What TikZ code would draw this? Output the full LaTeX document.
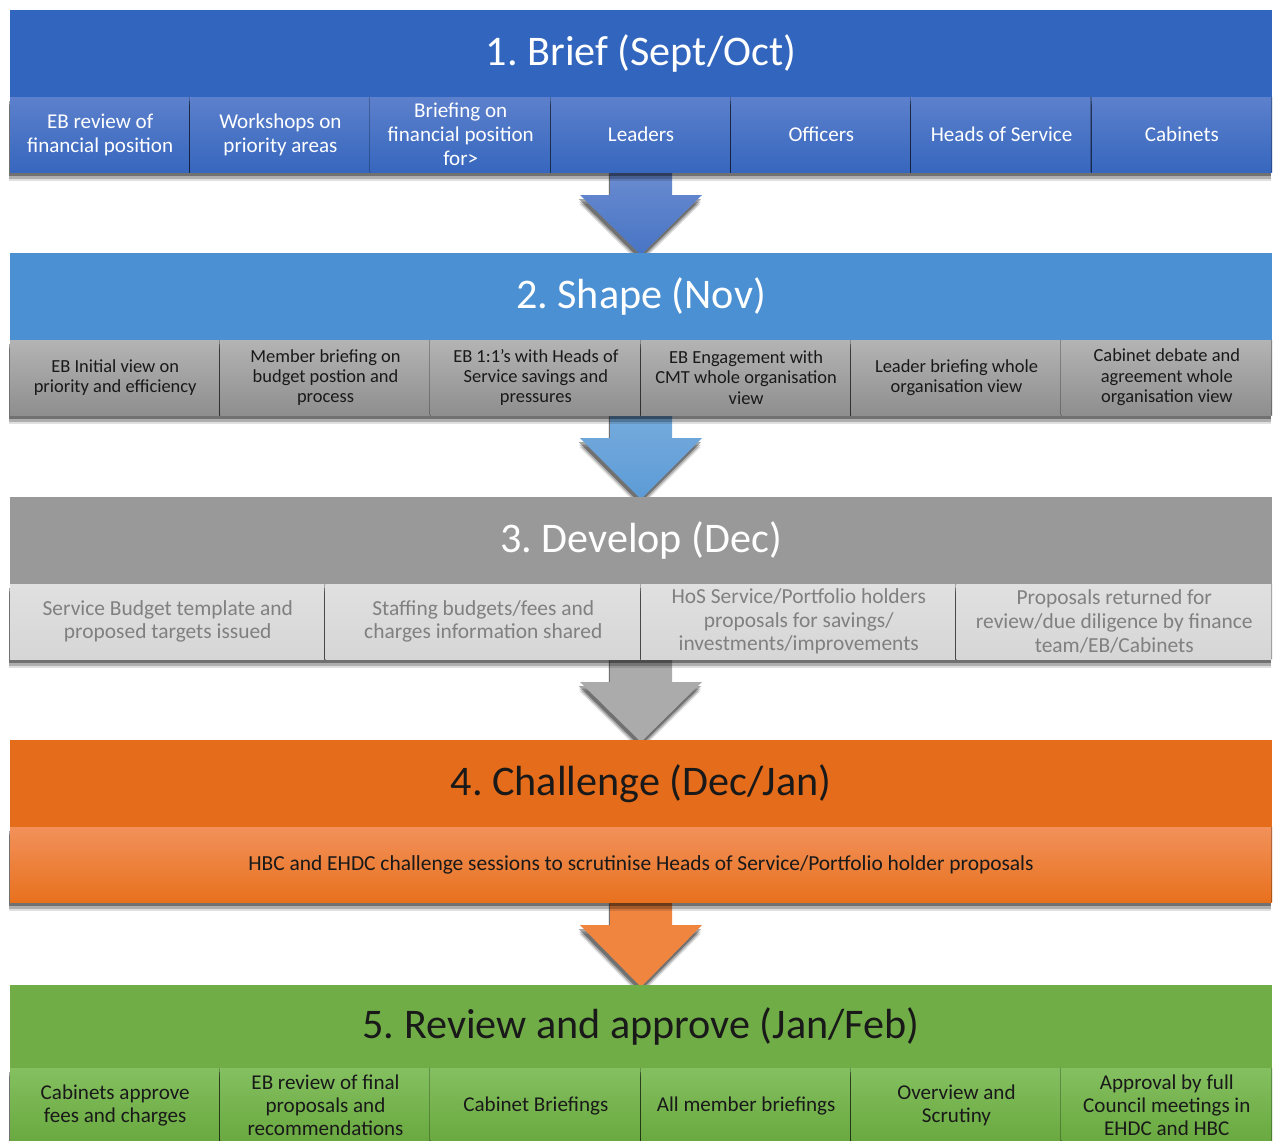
\documentclass[tikz,border=0pt]{standalone}
\usepackage{fontspec}
\setmainfont{Carlito}
\usetikzlibrary{positioning,calc,shadows,backgrounds}

\newdimen\px \px=0.02cm
\frenchspacing

\definecolor{briefhead}{HTML}{3265BE}
\definecolor{brieftop}{HTML}{5C80CC}
\definecolor{briefbot}{HTML}{3767BE}
\definecolor{shapehead}{HTML}{4A90D2}
\definecolor{shapetop}{HTML}{B4B4B4}
\definecolor{shapebot}{HTML}{8E8E8E}
\definecolor{develhead}{HTML}{999999}
\definecolor{develtop}{HTML}{E0E0E0}
\definecolor{develbot}{HTML}{D6D6D6}
\definecolor{develtext}{HTML}{808080}
\definecolor{challhead}{HTML}{E46C1A}
\definecolor{challtop}{HTML}{F2915A}
\definecolor{challbot}{HTML}{E8711E}
\definecolor{challarrow}{HTML}{F0853F}
\definecolor{reviewhead}{HTML}{70AD47}
\definecolor{reviewtop}{HTML}{84C060}
\definecolor{reviewbot}{HTML}{69A83F}

\tikzset{
  softshadow/.style={
    drop shadow={shadow xshift=-0.6pt, shadow yshift=-5pt, opacity=0.12, fill=black},
    drop shadow={shadow xshift=-0.6pt, shadow yshift=-3.8pt, opacity=0.22, fill=black},
    drop shadow={shadow xshift=-0.6pt, shadow yshift=-2.4pt, opacity=0.35, fill=black}},
  header/.style={rectangle, minimum width=1262\px, minimum height=87\px,
    inner sep=0pt, outer sep=0pt, anchor=north, font=\fontsize{24}{28}\selectfont},
  subbox/.style={rectangle, minimum height=75\px, inner xsep=2pt, inner ysep=0pt,
    outer sep=0pt, align=center, softshadow,
    path picture={\draw[black, opacity=0.25, line width=1.5pt]
      (path picture bounding box.north east) -- (path picture bounding box.south east);}},
  briefsub/.style={subbox, minimum width=180.29\px, top color=brieftop, bottom color=briefbot,
    text=white, font=\fontsize{12}{13.6}\selectfont},
  shapesub/.style={subbox, minimum width=210.33\px, top color=shapetop, bottom color=shapebot,
    text=black!90, font=\fontsize{10.5}{11.6}\selectfont},
  develsub/.style={subbox, minimum width=315.5\px, top color=develtop, bottom color=develbot,
    text=develtext, font=\fontsize{12.2}{13.4}\selectfont},
  challsub/.style={subbox, minimum width=1262\px, top color=challtop, bottom color=challbot,
    text=black!90, font=\fontsize{12.2}{13}\selectfont},
  reviewsub/.style={subbox, minimum width=210.33\px, top color=reviewtop, bottom color=reviewbot,
    text=black!90, font=\fontsize{12}{13}\selectfont},
}

\begin{document}
\begin{tikzpicture}[x=0.02cm, y=-0.02cm]
  \clip (0,0) rectangle (1277,1140);

  % 1. Brief
  \node[header, fill=briefhead, text=white] (brief) at (641,10) {1. Brief (Sept/Oct)};
  \node[briefsub, anchor=north west] (brief1) at (brief.south west) {EB review of\\financial position};
  \node[briefsub, right=0pt of brief1] (brief2) {Workshops on\\priority areas};
  \node[briefsub, right=0pt of brief2] (brief3) {Briefing on\\financial position\\for>};
  \node[briefsub, right=0pt of brief3] (brief4) {Leaders};
  \node[briefsub, right=0pt of brief4] (brief5) {Officers};
  \node[briefsub, right=0pt of brief5] (brief6) {Heads of Service};
  \node[briefsub, right=0pt of brief6] (brief7) {Cabinets};

  % 2. Shape
  \node[header, fill=shapehead, text=white] (shape) at (641,253) {2. Shape (Nov)};
  \node[shapesub, anchor=north west] (shape1) at (shape.south west) {EB Initial view on\\priority and efficiency};
  \node[shapesub, right=0pt of shape1] (shape2) {Member briefing on\\budget postion and\\process};
  \node[shapesub, right=0pt of shape2] (shape3) {EB 1:1's with Heads of\\Service savings and\\pressures};
  \node[shapesub, right=0pt of shape3] (shape4) {EB Engagement with\\CMT whole organisation\\view};
  \node[shapesub, right=0pt of shape4] (shape5) {Leader briefing whole\\organisation view};
  \node[shapesub, right=0pt of shape5] (shape6) {Cabinet debate and\\agreement whole\\organisation view};

  % 3. Develop
  \node[header, fill=develhead, text=white] (devel) at (641,497) {3. Develop (Dec)};
  \node[develsub, anchor=north west] (devel1) at (devel.south west) {Service Budget template and\\proposed targets issued};
  \node[develsub, right=0pt of devel1] (devel2) {Staffing budgets/fees and\\charges information shared};
  \node[develsub, right=0pt of devel2] (devel3) {HoS Service/Portfolio holders\\proposals for savings/\\investments/improvements};
  \node[develsub, right=0pt of devel3] (devel4) {Proposals returned for\\review/due diligence by finance\\team/EB/Cabinets};

  % 4. Challenge
  \node[header, fill=challhead, text=black!90] (chall) at (641,740) {4. Challenge (Dec/Jan)};
  \node[challsub, anchor=north west] (chall1) at (chall.south west) {HBC and EHDC challenge sessions to scrutinise Heads of Service/Portfolio holder proposals};

  % 5. Review and approve
  \node[header, fill=reviewhead, text=black!90, minimum height=83\px] (review) at (641,985) {5. Review and approve (Jan/Feb)};
  \node[reviewsub, anchor=north west] (review1) at (review.south west) {Cabinets approve\\fees and charges};
  \node[reviewsub, right=0pt of review1] (review2) {EB review of final\\proposals and\\recommendations};
  \node[reviewsub, right=0pt of review2] (review3) {Cabinet Briefings};
  \node[reviewsub, right=0pt of review3] (review4) {All member briefings};
  \node[reviewsub, right=0pt of review4] (review5) {Overview and\\Scrutiny};
  \node[reviewsub, right=0pt of review5] (review6) {Approval by full\\Council meetings in\\EHDC and HBC};

  % block arrows between the stages, behind the bands
  \coordinate (a1) at (brief.center |- brief1.south);
  \coordinate (a2) at (shape.center |- shape1.south);
  \coordinate (a3) at (devel.center |- devel1.south);
  \coordinate (a4) at (chall.center |- chall1.south);
  \begin{scope}[on background layer]
    \fill[white] (0,0) rectangle (1277,1140);
    \shade[softshadow, top color=brieftop!90!white, bottom color=briefhead!90]
      ($(a1)+(-31,-5)$) -- ($(a1)+(31,-5)$) -- ($(a1)+(31,23)$) -- ($(a1)+(61,23)$)
      -- ($(shape.north)+(0,2)$) -- ($(a1)+(-61,23)$) -- ($(a1)+(-31,23)$) -- cycle;
    \shade[softshadow, top color=shapehead!75, bottom color=shapehead!90]
      ($(a2)+(-31,-5)$) -- ($(a2)+(31,-5)$) -- ($(a2)+(31,23)$) -- ($(a2)+(61,23)$)
      -- ($(devel.north)+(0,2)$) -- ($(a2)+(-61,23)$) -- ($(a2)+(-31,23)$) -- cycle;
    \fill[softshadow, black!33]
      ($(a3)+(-31,-5)$) -- ($(a3)+(31,-5)$) -- ($(a3)+(31,23)$) -- ($(a3)+(61,23)$)
      -- ($(chall.north)+(0,2)$) -- ($(a3)+(-61,23)$) -- ($(a3)+(-31,23)$) -- cycle;
    \fill[softshadow, challarrow]
      ($(a4)+(-31,-5)$) -- ($(a4)+(31,-5)$) -- ($(a4)+(31,23)$) -- ($(a4)+(61,23)$)
      -- ($(review.north)+(0,2)$) -- ($(a4)+(-61,23)$) -- ($(a4)+(-31,23)$) -- cycle;
  \end{scope}
\end{tikzpicture}
\end{document}
